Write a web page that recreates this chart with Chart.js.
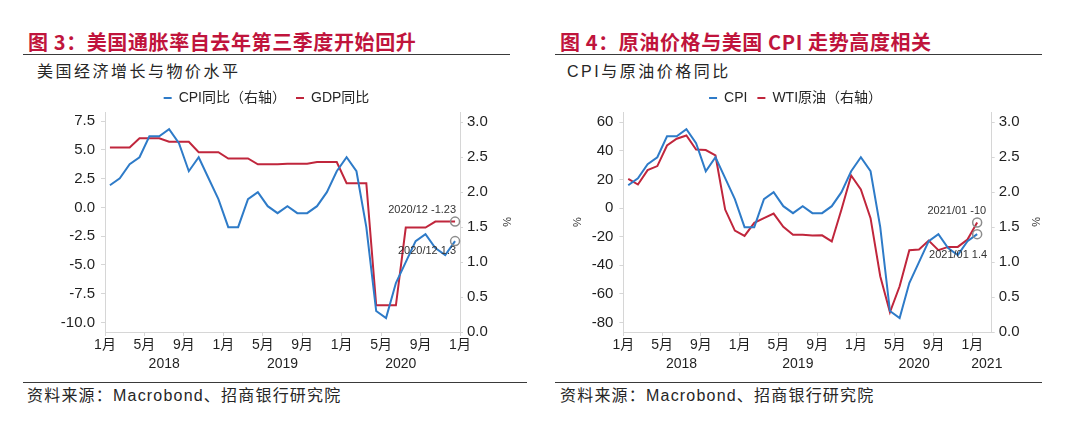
<!DOCTYPE html>
<html>
<head>
<meta charset="utf-8">
<script src="https://cdn.jsdelivr.net/npm/chart.js@4.4.1/dist/chart.umd.min.js"></script>
<style>
    html, body { margin: 0; padding: 0; background: #fff; }
    body { width: 1080px; height: 442px; position: relative; overflow: hidden; }
    .fig-title { position: absolute; top: 30px; font: bold 20px/24px "Noto Sans CJK SC", sans-serif; color: #c0143c; letter-spacing: 0.6px; white-space: nowrap; }
    .rule { position: absolute; height: 0; border-top: 1.5px solid #3a3a3a; }
    .sub { position: absolute; top: 62px; font: 16px/20px "Liberation Sans", "Noto Sans CJK SC", sans-serif; color: #262626; letter-spacing: 2.5px; white-space: nowrap; }
    .src { position: absolute; top: 386px; font: 16px/20px "Liberation Sans", "Noto Sans CJK SC", sans-serif; color: #262626; letter-spacing: 1.2px; white-space: nowrap; }
    .panel { position: absolute; top: 80px; }
</style>
</head>
<body>
    <div class="fig-title" style="left:28px;">图 3：美国通胀率自去年第三季度开始回升</div>
    <div class="fig-title" style="left:560px;">图 4：原油价格与美国 CPI 走势高度相关</div>
    <div class="rule" style="left:23px; top:54px; width:487px;"></div>
    <div class="rule" style="left:555px; top:54px; width:487px;"></div>
    <div class="sub" style="left:37px;">美国经济增长与物价水平</div>
    <div class="sub" style="left:567px;">CPI与原油价格同比</div>

    <canvas id="fig3" class="panel" style="left:0;" width="540" height="300"></canvas>
    <canvas id="fig4" class="panel" style="left:540px;" width="540" height="300"></canvas>

    <div class="rule" style="left:23px; top:382px; width:504px;"></div>
    <div class="rule" style="left:555px; top:382px; width:487px;"></div>
    <div class="src" style="left:27px;">资料来源：Macrobond、招商银行研究院</div>
    <div class="src" style="left:560px;">资料来源：Macrobond、招商银行研究院</div>

<script>
// monthly data, Jan 2018 .. Jan 2021 (index 0 = 2018/01)
const CPI_YOY = [
    2.1, 2.2, 2.4, 2.5, 2.8, 2.8, 2.9, 2.7, 2.3, 2.5, 2.2, 1.9,
    1.5, 1.5, 1.9, 2.0, 1.8, 1.7, 1.8, 1.7, 1.7, 1.8, 2.0, 2.3,
    2.5, 2.3, 1.5, 0.3, 0.2, 0.7, 1.0, 1.3, 1.4, 1.2, 1.1, 1.3,
    1.4
];
// quarterly GDP yoy, repeated for each month of the quarter (2018/01 .. 2020/12)
const GDP_YOY = [
    5.2, 5.2, 5.2, 6.0, 6.0, 6.0, 5.7, 5.7, 5.7, 4.8, 4.8, 4.8,
    4.25, 4.25, 4.25, 3.75, 3.75, 3.75, 3.8, 3.8, 3.8, 3.95, 3.95, 3.95,
    2.1, 2.1, 2.1, -8.5, -8.5, -8.5, -1.75, -1.75, -1.75, -1.23, -1.23, -1.23
];
const WTI_YOY = [
    20.5, 16.5, 26.6, 29.4, 43.8, 48.5, 50.8, 41.0, 40.6, 36.8, -1.0, -15.7,
    -19.4, -10.3, -7.0, -3.8, -13.1, -18.7, -18.7, -19.2, -19.0, -23.3, -1.0, 22.8,
    13.0, -7.0, -47.6, -72.8, -54.6, -29.4, -29.0, -22.7, -29.4, -27.1, -27.1, -22.0,
    -10.0
];

const X_TICKS = [0, 4, 8, 12, 16, 20, 24, 28, 32, 36];
const X_TICK_LABELS = ['1月', '5月', '9月', '1月', '5月', '9月', '1月', '5月', '9月', '1月'];
const YEAR_POS_3 = [6, 18, 30];
const YEAR_LABELS_3 = ['2018', '2019', '2020'];
const YEAR_POS_4 = [6, 18, 30, 37.5];
const YEAR_LABELS_4 = ['2018', '2019', '2020', '2021'];

const GDP_AXIS_TICKS = [-10, -7.5, -5, -2.5, 0, 2.5, 5, 7.5];
const WTI_AXIS_TICKS = [-80, -70, -60, -50, -40, -30, -20, -10, 0, 10, 20, 30, 40, 50, 60];
const CPI_AXIS_TICKS = [0, 0.5, 1, 1.5, 2, 2.5, 3];

const LEGEND_3 = ['CPI同比（右轴）', 'GDP同比'];
const LEGEND_4 = ['CPI', 'WTI原油（右轴）'];
const NOTES_3 = ['2020/12 1.3', '2020/12 -1.23'];
const NOTES_4 = ['2021/01 1.4', '2021/01 -10'];

const BLUE = '#2e7bc8';
const RED = '#c0263c';
const TEXT = '#1f1f1f';
const AXIS_GRAY = '#d6d6d6';
const FONT = '"Liberation Sans", "Noto Sans CJK SC", sans-serif';

Chart.defaults.font.family = FONT;

const toPoints = (arr) => arr.map((v, i) => ({ x: i + 0.5, y: v }));
const setTicks = (values) => (scale) => { scale.ticks = values.map(v => ({ value: v })); };
const fixWidth = (w) => (scale) => { scale.width = w; };
const fixHeight = (h) => (scale) => { scale.height = h; };

// grey rings + value labels on the last points
const endMarkers = {
    id: 'endMarkers',
    afterDatasetsDraw(chart, args, opts) {
        const ctx = chart.ctx;
        (opts.items || []).forEach(m => {
            const meta = chart.getDatasetMeta(m.ds);
            const pt = meta.data[meta.data.length - 1];
            ctx.save();
            ctx.beginPath();
            ctx.arc(pt.x, pt.y, 4.5, 0, Math.PI * 2);
            ctx.strokeStyle = '#8c8c8c';
            ctx.lineWidth = 1.5;
            ctx.stroke();
            ctx.font = '11px ' + FONT;
            ctx.fillStyle = '#333';
            ctx.textAlign = 'right';
            ctx.textBaseline = 'middle';
            ctx.fillText(m.text, pt.x + m.dx, pt.y + m.dy);
            ctx.restore();
        });
    }
};

// nudge the legend sideways without touching the plot area
const legendShift = {
    id: 'legendShift',
    afterLayout(chart, args, opts) {
        if (chart.legend && opts.dx) {
            chart.legend.left += opts.dx;
            chart.legend.right += opts.dx;
        }
    }
};

const axisTitle = (show) => ({
    display: show, text: '%', color: '#333',
    font: { size: 11 }, padding: { top: 4, bottom: 4 }
});

const buildChart = (id, o) => new Chart(document.getElementById(id), {
    type: 'line',
    data: {
        datasets: [
            { label: o.legend[0], data: toPoints(o.cpi), yAxisID: 'yR', borderColor: BLUE, backgroundColor: BLUE },
            { label: o.legend[1], data: toPoints(o.other), yAxisID: 'yL', borderColor: RED, backgroundColor: RED }
        ]
    },
    options: {
        responsive: false,
        animation: false,
        devicePixelRatio: 1,
        layout: { padding: o.padding },
        elements: {
            point: { radius: 0, hoverRadius: 0 },
            line: { borderWidth: 2, tension: 0 }
        },
        plugins: {
            tooltip: { enabled: false },
            legend: {
                position: 'top',
                maxHeight: 31,
                labels: {
                    boxWidth: 8, boxHeight: 2, padding: 10, color: '#262626',
                    font: { size: 14 },
                    generateLabels: (chart) => Chart.defaults.plugins.legend.labels.generateLabels(chart)
                        .map(l => ({ ...l, lineWidth: 0, fillStyle: l.strokeStyle }))
                }
            },
            endMarkers: { items: o.markers },
            legendShift: { dx: o.legendDx }
        },
        scales: {
            x: {
                type: 'linear', position: 'bottom', min: 0, max: o.xMax,
                afterBuildTicks: setTicks(X_TICKS),
                afterFit: fixHeight(22),
                ticks: {
                    callback: (v, i) => X_TICK_LABELS[i],
                    autoSkip: false, maxRotation: 0, padding: 1, color: TEXT,
                    font: { size: 14 }
                },
                grid: { drawOnChartArea: false, tickLength: 4, color: AXIS_GRAY },
                border: { color: AXIS_GRAY }
            },
            xYear: {
                type: 'linear', position: 'bottom', min: 0, max: o.xMax,
                afterBuildTicks: setTicks(o.yearPos),
                afterFit: fixHeight(20),
                ticks: {
                    callback: (v, i) => o.years[i],
                    autoSkip: false, maxRotation: 0, padding: 2, color: TEXT,
                    font: { size: 14 }
                },
                grid: { display: false, drawTicks: false },
                border: { display: false }
            },
            yL: {
                position: 'left', min: o.leftMin, max: o.leftMax,
                afterBuildTicks: setTicks(o.leftTicks),
                afterFit: fixWidth(o.leftWidth),
                ticks: { callback: o.leftFmt, padding: 6, color: TEXT, font: { size: 15 } },
                grid: { drawOnChartArea: false, tickLength: 4, color: AXIS_GRAY },
                border: { color: AXIS_GRAY },
                title: axisTitle(o.leftTitle)
            },
            yR: {
                position: 'right', min: 0, max: 3.147,
                afterBuildTicks: setTicks(CPI_AXIS_TICKS),
                afterFit: fixWidth(o.rightWidth),
                ticks: { callback: (v) => v.toFixed(1), padding: 4, color: TEXT, font: { size: 15 } },
                grid: { drawOnChartArea: false, tickLength: 3, color: AXIS_GRAY },
                border: { color: AXIS_GRAY },
                title: axisTitle(true)
            }
        }
    },
    plugins: [endMarkers, legendShift]
});

buildChart('fig3', {
    legend: LEGEND_3,
    cpi: CPI_YOY.slice(0, 36),
    other: GDP_YOY,
    xMax: 36,
    yearPos: YEAR_POS_3, years: YEAR_LABELS_3,
    leftMin: -10.82, leftMax: 8.29, leftTicks: GDP_AXIS_TICKS,
    leftFmt: (v) => v.toFixed(1),
    leftWidth: 105, rightWidth: 57, leftTitle: false,
    padding: { left: 0, right: 23, top: 1, bottom: 6 },
    legendDx: 8,
    markers: [
        { ds: 1, text: NOTES_3[1], dx: 1, dy: -12 },
        { ds: 0, text: NOTES_3[0], dx: 1, dy: 10 }
    ]
});

buildChart('fig4', {
    legend: LEGEND_4,
    cpi: CPI_YOY,
    other: WTI_YOY,
    xMax: 38,
    yearPos: YEAR_POS_4, years: YEAR_LABELS_4,
    leftMin: -86.6, leftMax: 67.2, leftTicks: WTI_AXIS_TICKS,
    leftFmt: (v) => (v % 20 === 0 ? String(v) : ''),
    leftWidth: 56, rightWidth: 54, leftTitle: true,
    padding: { left: 27.4, right: 34.3, top: 1, bottom: 6 },
    legendDx: -11,
    markers: [
        { ds: 1, text: NOTES_4[1], dx: 9, dy: -11 },
        { ds: 0, text: NOTES_4[0], dx: 10, dy: 21 }
    ]
});
</script>
</body>
</html>
